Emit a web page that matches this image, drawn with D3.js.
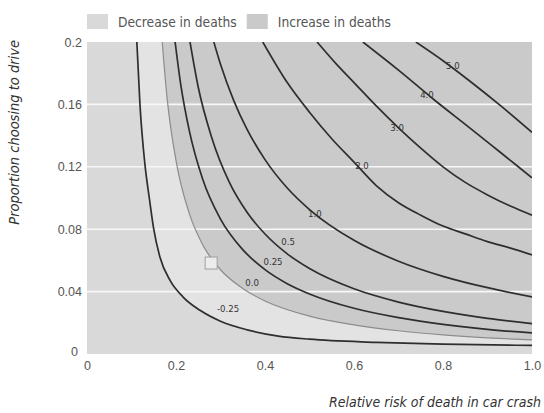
<!DOCTYPE html>
<html><head><meta charset="utf-8">
<script src="https://cdn.jsdelivr.net/npm/d3@7"></script>
<style>
body{margin:0;background:#fff;}
svg{display:block;font-family:"DejaVu Sans Condensed","Liberation Sans",sans-serif;}
</style></head><body>
<svg id="c" width="544" height="413"></svg>
<script>
// ---- data ----
const xTicks = [0, 0.2, 0.4, 0.6, 0.8, 1.0];
const xTickLabels = ["0", "0.2", "0.4", "0.6", "0.8", "1.0"];
const yTicks = [0, 0.04, 0.08, 0.12, 0.16, 0.2];
const yTickLabels = ["0", "0.04", "0.08", "0.12", "0.16", "0.2"];
const gridValues = [0.04, 0.08, 0.12, 0.16];

const levels = [-0.25, 0.0, 0.25, 0.5, 1.0, 2.0, 3.0, 4.0, 5.0];
const levelLabels = ["-0.25", "0.0", "0.25", "0.5", "1.0", "2.0", "3.0", "4.0", "5.0"];

// contour lines: [relative risk, proportion driving]
const cMinus025 = [[0.112,0.2],[0.119,0.16],[0.130,0.122],[0.140,0.1],[0.150,0.08],[0.164,0.062],[0.187,0.047],[0.216,0.0365],[0.254,0.028],[0.30,0.021],[0.36,0.0155],[0.43,0.0115],[0.5,0.0095],[0.65,0.0075],[0.8,0.0063],[1.0,0.0055]];
const c000 = [[0.169,0.2],[0.18,0.164],[0.20,0.124],[0.23,0.090],[0.26,0.070],[0.30,0.054],[0.35,0.042],[0.40,0.034],[0.5,0.0243],[0.6,0.0187],[0.7,0.0149],[0.8,0.0123],[0.9,0.0104],[1.0,0.0090]];
const c025 = [[0.198,0.2],[0.21,0.174],[0.23,0.143],[0.26,0.112],[0.30,0.0865],[0.35,0.0669],[0.40,0.0541],[0.45,0.0451],[0.5,0.0385],[0.6,0.0293],[0.7,0.0233],[0.8,0.019],[0.9,0.0158],[1.0,0.0135]];
const c050 = [[0.2315,0.2],[0.25,0.171],[0.28,0.139],[0.32,0.110],[0.36,0.0907],[0.40,0.0769],[0.45,0.0642],[0.5,0.0548],[0.6,0.0418],[0.7,0.0333],[0.8,0.0273],[0.9,0.0228],[1.0,0.0195]];
const c100 = [[0.285,0.2],[0.30,0.1857],[0.33,0.1623],[0.36,0.1438],[0.40,0.1246],[0.45,0.1064],[0.5,0.0926],[0.6,0.0729],[0.7,0.0595],[0.8,0.0498],[0.9,0.0425],[1.0,0.0366]];
const c200 = [[0.395,0.2],[0.45,0.174],[0.5,0.155],[0.55,0.138],[0.6,0.123],[0.65,0.108],[0.7,0.097],[0.75,0.089],[0.8,0.082],[0.85,0.077],[0.9,0.072],[0.95,0.068],[1.0,0.0635]];
const c300 = [[0.517,0.2],[0.56,0.186],[0.6,0.174],[0.65,0.159],[0.7,0.145],[0.75,0.132],[0.8,0.12],[0.85,0.11],[0.9,0.102],[0.95,0.095],[1.0,0.089]];
const c400 = [[0.62,0.2],[0.70,0.182],[0.78,0.163],[0.86,0.145],[0.93,0.129],[1.0,0.113]];
const c500 = [[0.739,0.2],[0.80,0.188],[0.86,0.175],[0.93,0.159],[1.0,0.142]];
const contours = [cMinus025, c000, c025, c050, c100, c200, c300, c400, c500];

// label anchor positions [r, p] as seen in the picture
const labelPos = [[0.317,0.0288],[0.371,0.0455],[0.418,0.059],[0.452,0.0718],[0.512,0.0897],[0.618,0.121],[0.697,0.145],[0.764,0.166],[0.822,0.185]];

// current estimate marker
const marker = [0.279, 0.0583];

const legendItems = ["Decrease in deaths", "Increase in deaths"];

// ---- drawing ----
const W = 544, H = 413;
const m = {left: 87, right: 12, top: 42, bottom: 59};
const svg = d3.select("#c");
const x = d3.scaleLinear().domain([0, 1]).range([m.left, W - m.right]);
const y = d3.scaleLinear().domain([0, 0.2]).range([H - m.bottom, m.top]);

const colLeft = "#d9d9d9", colBand = "#e3e3e3", colInc = "#cacaca";

svg.append("defs").append("clipPath").attr("id", "clip")
  .append("rect").attr("x", x(0)).attr("y", y(0.2))
  .attr("width", x(1) - x(0)).attr("height", y(0) - y(0.2));

const plot = svg.append("g").attr("clip-path", "url(#clip)");
plot.append("rect").attr("x", x(0)).attr("y", y(0.2))
  .attr("width", x(1) - x(0)).attr("height", y(0) - y(0.2)).attr("fill", colLeft);

const line = d3.line().x(d => x(d[0])).y(d => y(d[1])).curve(d3.curveMonotoneX);
const region = pts => line(pts) + `L${x(1)},${y(0.2)}Z`;

plot.append("path").attr("d", region(cMinus025)).attr("fill", colBand);
plot.append("path").attr("d", region(c000)).attr("fill", colInc);

// grid lines
plot.selectAll("line.grid").data(gridValues).join("line")
  .attr("x1", x(0)).attr("x2", x(1))
  .attr("y1", d => y(d)).attr("y2", d => y(d))
  .attr("stroke", "#f7f7f7").attr("stroke-width", 1.6);

// contours
plot.selectAll("path.ct").data(contours).join("path")
  .attr("class", "ct")
  .attr("d", d => line(d))
  .attr("fill", "none")
  .attr("stroke", (d, i) => levels[i] === 0 ? "#8c8c8c" : "#2e2e2e")
  .attr("stroke-width", (d, i) => levels[i] === 0 ? 1.2 : 1.7);

// contour labels
svg.append("g").selectAll("text").data(labelPos).join("text")
  .attr("x", d => x(d[0])).attr("y", d => y(d[1]))
  .attr("dy", "0.35em").attr("text-anchor", "middle")
  .attr("font-size", 9.5).attr("fill", "#333")
  .text((d, i) => levelLabels[i]);

// marker
svg.append("rect")
  .attr("x", x(marker[0]) - 6).attr("y", y(marker[1]) - 6)
  .attr("width", 12).attr("height", 12)
  .attr("fill", "#ececec").attr("stroke", "#a0a0a0").attr("stroke-width", 1);

// axes (labels only)
const xAxis = d3.axisBottom(x).tickValues(xTicks).tickFormat((d, i) => xTickLabels[i]).tickSize(0).tickPadding(7);
const gx = svg.append("g").attr("transform", `translate(0,${y(0)})`).call(xAxis);
gx.select(".domain").remove();
gx.selectAll("text").attr("font-size", 12.5).attr("fill", "#555").attr("font-family", null);

const yAxis = d3.axisLeft(y).tickValues(yTicks).tickFormat((d, i) => yTickLabels[i]).tickSize(0).tickPadding(5);
const gy = svg.append("g").attr("transform", `translate(${x(0)},0)`).call(yAxis);
gy.select(".domain").remove();
gy.selectAll("text").attr("font-size", 12.5).attr("fill", "#555").attr("font-family", null);
gy.selectAll(".tick").filter(d => d === 0).select("text").attr("dx", -4).attr("dy", "0.1em");

// axis titles
svg.append("text").attr("x", 541).attr("y", 407).attr("text-anchor", "end")
  .attr("font-size", 14).attr("font-style", "italic").attr("fill", "#333")
  .text("Relative risk of death in car crash");
svg.append("text").attr("transform", `translate(19,${y(0.2) - 2}) rotate(-90)`)
  .attr("text-anchor", "end")
  .attr("font-size", 14.5).attr("font-style", "italic").attr("fill", "#333")
  .text("Proportion choosing to drive");

// legend
const lg = svg.append("g");
const sw = [colLeft, colInc];
let lx = 87;
legendItems.forEach((t, i) => {
  lg.append("rect").attr("x", lx).attr("y", 14).attr("width", 21).attr("height", 15).attr("fill", sw[i]);
  const tx = lg.append("text").attr("x", lx + 31).attr("y", 22).attr("dy", "0.35em")
    .attr("font-size", 13.7).attr("fill", "#555").text(t);
  lx += 31 + tx.node().getComputedTextLength() + 10;
});
</script>
</body></html>
